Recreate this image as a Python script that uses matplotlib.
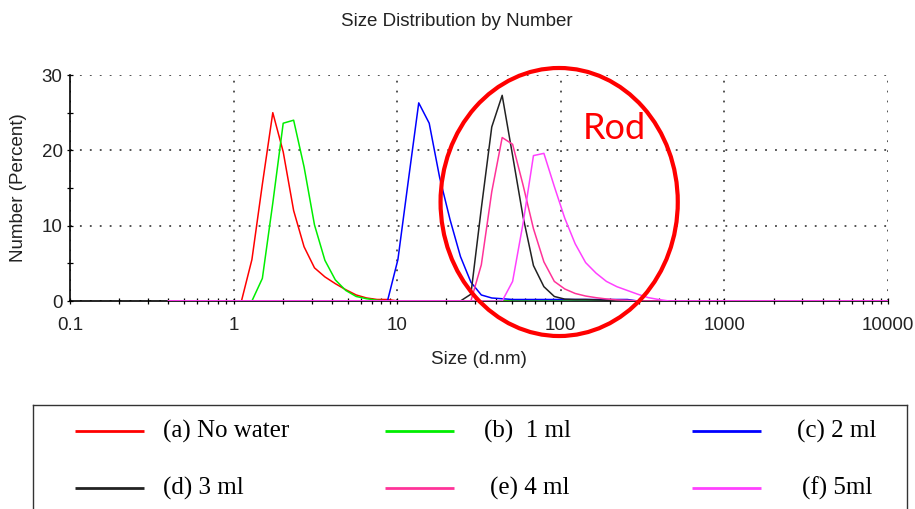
import matplotlib
matplotlib.use('Agg')
import matplotlib.pyplot as plt
from matplotlib.patches import Ellipse
from matplotlib.ticker import LogLocator, MultipleLocator, FixedFormatter, FixedLocator

# DLS size classes (d.nm), 70 log-spaced bins
sizes = [0.4, 0.4632, 0.5365, 0.6213, 0.7195, 0.8332, 0.9649, 1.117, 1.294, 1.499,
         1.736, 2.01, 2.328, 2.696, 3.122, 3.615, 4.187, 4.849, 5.615, 6.503,
         7.531, 8.721, 10.1, 11.7, 13.54, 15.69, 18.17, 21.04, 24.36, 28.21,
         32.67, 37.84, 43.82, 50.75, 58.77, 68.06, 78.82, 91.28, 105.7, 122.4,
         141.8, 164.2, 190.1, 220.2, 255.0, 295.3, 342.0, 396.1, 458.7, 531.2,
         615.1, 712.4, 825.0, 955.4, 1106, 1281, 1484, 1718, 1990, 2305,
         2669, 3091, 3580, 4145, 4801, 5560, 6439, 7456, 8635, 10000]

# number % per sample, listed from the first bin given in *_start onwards
no_water_start = 1.117
no_water = [0, 5.5, 15.5, 25.0, 19.8, 12.0, 7.2, 4.4, 3.2, 2.3, 1.5, 0.8, 0.4, 0.2, 0.2, 0]

ml1_start = 1.294
ml1 = [0, 3.0, 13.0, 23.6, 24.0, 17.8, 10.1, 5.4, 2.8, 1.4, 0.6, 0.3, 0.1, 0]

ml2_start = 8.721
ml2 = [0, 5.5, 16.0, 26.3, 23.6, 16.4, 10.8, 5.9, 2.5, 0.8, 0.4, 0.3,
       0.2, 0.2, 0.2, 0.2, 0.2, 0.2, 0.2, 0.2, 0.2, 0.2, 0.2, 0.2, 0]

ml3_start = 24.36
ml3 = [0, 0.9, 12.3, 23.1, 27.3, 19.3, 11.2, 4.7, 1.9, 0.6, 0.25, 0.2, 0.2, 0.15, 0.1, 0]

ml4_start = 28.21
ml4 = [0, 4.8, 14.5, 21.7, 20.8, 15.4, 9.6, 5.2, 2.6, 1.6, 1.0, 0.66, 0.44, 0.27, 0.15, 0.1, 0]

ml5_start = 43.82
ml5 = [0, 2.6, 10.3, 19.3, 19.6, 15.2, 11.0, 7.6, 5.1, 3.7, 2.6, 1.9, 1.4, 0.9, 0.45, 0.2, 0]

labels = ['(a) No water', '(b)  1 ml', '(c) 2 ml', '(d) 3 ml', '(e) 4 ml', '(f) 5ml']
colors = ['#ff0000', '#00ee00', '#0000ff', '#222222', '#ff3399', '#ff40ff']

x_ticks = [0.1, 1, 10, 100, 1000, 10000]
x_ticklabels = ['0.1', '1', '10', '100', '1000', '10000']


def on_grid(first, vals):
    # put a partial series onto the full size grid, zero elsewhere
    y = [0.0] * len(sizes)
    i = sizes.index(first)
    y[i:i + len(vals)] = vals
    return y


series = [on_grid(no_water_start, no_water), on_grid(ml1_start, ml1),
          on_grid(ml2_start, ml2), on_grid(ml3_start, ml3),
          on_grid(ml4_start, ml4), on_grid(ml5_start, ml5)]

W, H = 915, 509
fig = plt.figure(figsize=(W / 100, H / 100), dpi=100)
fig.patch.set_facecolor('white')

sans = ['Liberation Sans', 'DejaVu Sans']
txt_color = '#222222'

ax = fig.add_axes([70 / W, 1 - 301 / H, 818 / W, 226 / H])
# curves above the spines so the zero baseline shows in colour
for y, c in zip(series, colors):
    ax.plot(sizes, y, color=c, linewidth=1.1, zorder=3)

ax.set_xscale('log')
ax.set_xlim(0.1, 10000)
ax.set_ylim(0, 30)

ax.xaxis.set_major_locator(FixedLocator(x_ticks))
ax.xaxis.set_major_formatter(FixedFormatter(x_ticklabels))
ax.xaxis.set_minor_locator(LogLocator(base=10, subs=range(2, 10), numticks=20))
ax.xaxis.set_minor_formatter(plt.NullFormatter())
ax.yaxis.set_major_locator(MultipleLocator(10))
ax.yaxis.set_minor_locator(MultipleLocator(5))

for s in ['top', 'right']:
    ax.spines[s].set_visible(False)
for s in ['left', 'bottom']:
    ax.spines[s].set_color('black')
    ax.spines[s].set_linewidth(1.2)

ax.tick_params(which='both', direction='inout', length=4.5, width=0.9, color='black')
ax.tick_params(axis='x', which='major', pad=9, labelsize=13.5, labelcolor=txt_color)
ax.tick_params(axis='y', which='major', pad=3, labelsize=13.5, labelcolor=txt_color)
for lab in ax.get_xticklabels() + ax.get_yticklabels():
    lab.set_family(sans)

ax.grid(True, which='major', color='#444444', linestyle=(0, (1, 4.5)), linewidth=1.3)

ax.set_xlabel('Size (d.nm)', fontsize=13.5, family=sans, color=txt_color)
ax.set_ylabel('Number (Percent)', fontsize=13.5, family=sans, color=txt_color)
ax.xaxis.set_label_coords(0.5, -0.221)
ax.yaxis.set_label_coords(-0.053, 0.5)

fig.text(0.499, 1 - 22 / H, 'Size Distribution by Number', ha='center', va='center',
         fontsize=13.5, family=sans, color=txt_color)

# highlight of the rod population
ax.add_patch(Ellipse((0.598, 0.438), 0.29, 1.186, transform=ax.transAxes,
                     fill=False, edgecolor='#ff0000', linewidth=3.0, clip_on=False, zorder=6))
ax.text(0.665, 0.762, 'Rod', transform=ax.transAxes, ha='center', va='center',
        fontsize=26, family=['Lato', 'DejaVu Sans'], color='#ff0000', zorder=6)

# legend box along the bottom
lax = fig.add_axes([33 / W, 0, 874 / W, 104 / H])
lax.set_xlim(0, 1)
lax.set_ylim(0, 1)
lax.set_xticks([])
lax.set_yticks([])
lax.spines['bottom'].set_visible(False)
for s in ['left', 'top', 'right']:
    lax.spines[s].set_color('#333333')
    lax.spines[s].set_linewidth(1.0)

line_x = [(0.048, 0.127), (0.403, 0.482), (0.754, 0.833)]
text_x = [[0.149, 0.516, 0.874], [0.149, 0.523, 0.880]]
row_y = [0.75, 0.202]
for k, (lab, c) in enumerate(zip(labels, colors)):
    row, col = divmod(k, 3)
    lax.plot(line_x[col], [row_y[row]] * 2, color=c, linewidth=2.0, solid_capstyle='butt')
    lax.text(text_x[row][col], row_y[row], lab, ha='left', va='center', fontsize=18,
             family=['Liberation Serif', 'DejaVu Serif'], color='black')

fig.savefig('out.png', dpi=100)
